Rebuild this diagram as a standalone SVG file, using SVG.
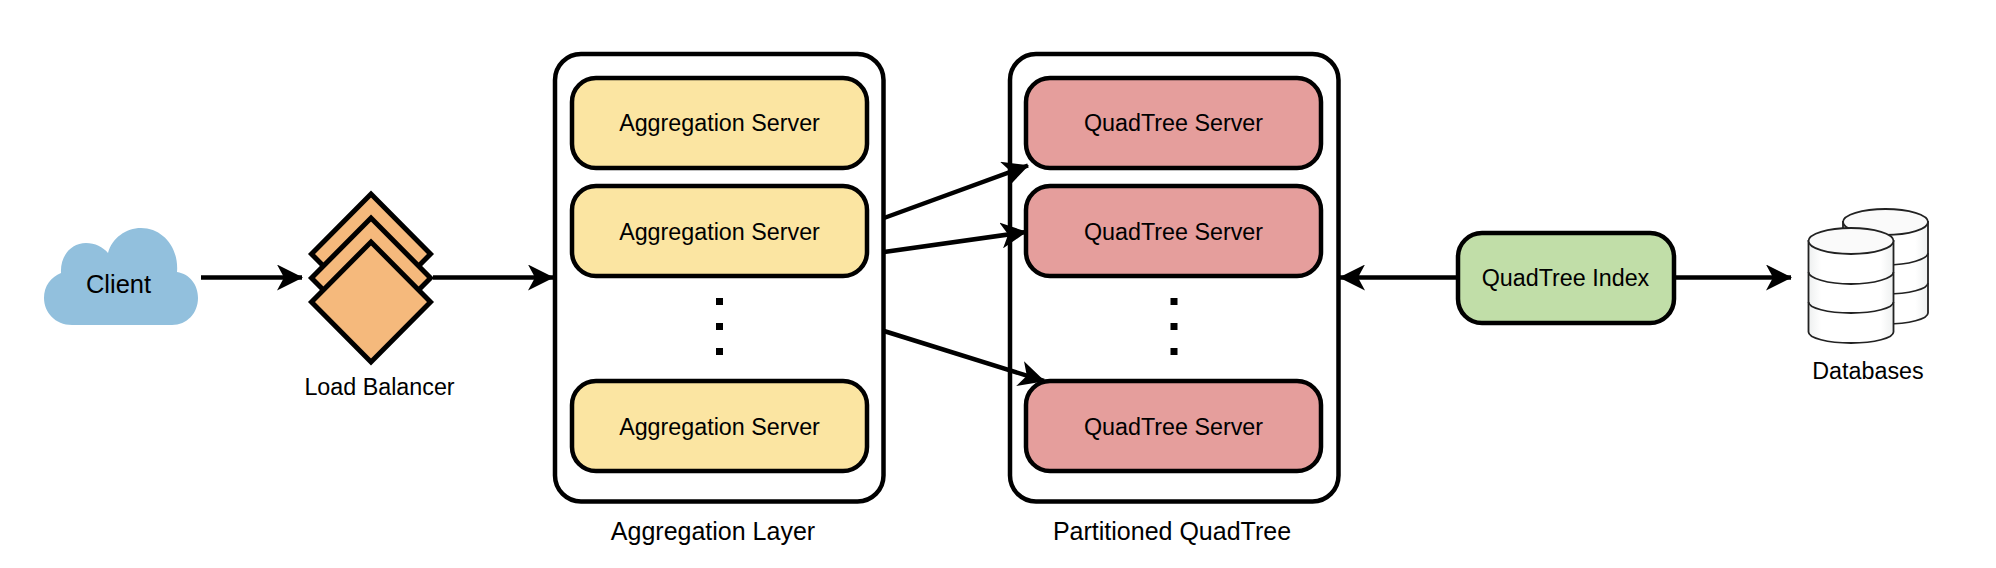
<svg xmlns="http://www.w3.org/2000/svg" width="1996" height="568" viewBox="0 0 1996 568">
<style>
text{font-family:"Liberation Sans",Arial,sans-serif;fill:#000;text-anchor:middle}
.s{font-size:23.300px}.l{font-size:25px}
.outer{fill:#fff;stroke:#000;stroke-width:4.500}
.box{stroke:#000;stroke-width:4.500}
.ag{fill:#FBE5A2}.qt{fill:#E59E9C}.idx{fill:#C1DEA8}
.dia{fill:#F5B97C;stroke:#000;stroke-width:5;stroke-linejoin:miter}
.conn{fill:none;stroke:#000;stroke-width:4.500}
.dots{fill:none;stroke:#000;stroke-width:7;stroke-dasharray:7 18}
.cyl{fill:url(#cylfill);stroke:#222;stroke-width:1.800}
.cap{fill:#fafafa;stroke:#222;stroke-width:1.800}
.arc{fill:none;stroke:#222;stroke-width:1.800}
</style>
<defs>
<linearGradient id="cylfill"><stop offset="0" stop-color="#eef0f0"/><stop offset="0.15" stop-color="#fff"/><stop offset="0.85" stop-color="#fff"/><stop offset="1" stop-color="#eef0f0"/></linearGradient>
<marker id="arrow" markerUnits="userSpaceOnUse" viewBox="0 0 26 26" markerWidth="26" markerHeight="26" refX="25" refY="13" orient="auto-start-reverse"><path d="M0 0L26 13L0 26L7 13Z" fill="#000"/></marker>
<g id="cyl">
<path class="cyl" d="M0 13V104C0 110 19 115 42.500 115S85 110 85 104V13Z"/>
<ellipse class="cap" cx="42.500" cy="13" rx="42.500" ry="13"/>
<path class="arc" d="M0 44C0 50 19 56 42.500 56S85 50 85 44"/>
<path class="arc" d="M0 74C0 80 19 85 42.500 85S85 80 85 74"/>
</g>
</defs>
<g id="outer-aggregation"><rect class="outer" x="555" y="54" width="328.500" height="447.500" rx="26"/></g>
<g id="outer-quadtree"><rect class="outer" x="1010" y="54" width="328.500" height="447.500" rx="26"/></g>
<g id="client"><path d="M72 325C55 325 44 312 44 298C44 286 51 277 61 273C60 256 71 243 86 243C95 243 103 247 108 253C112 238 126 228 141 228C163 228 179 248 177 272C190 274 198 285 198 298C198 313 187 325 172 325Z" fill="#92C0DD"/><text x="118.500" y="293" style="font-size:25.500px">Client</text></g>
<g id="load-balancer">
<path class="dia" d="M371 194L430.500 254L371 314L311.500 254Z"/>
<path class="dia" d="M371 218L430.500 278L371 338L311.500 278Z"/>
<path class="dia" d="M371 242L430.500 302L371 362L311.500 302Z"/>
<text class="s" x="379.500" y="395">Load Balancer</text></g>
<g id="aggregation-1"><rect class="box ag" x="572" y="78" width="295" height="90" rx="24"/><text class="s" x="719.500" y="131">Aggregation Server</text></g>
<g id="aggregation-2"><rect class="box ag" x="572" y="186" width="295" height="90" rx="24"/><text class="s" x="719.500" y="240">Aggregation Server</text></g>
<g id="aggregation-3"><rect class="box ag" x="572" y="381" width="295" height="90" rx="24"/><text class="s" x="719.500" y="435">Aggregation Server</text></g>
<g id="aggregation-dots"><path class="dots" d="M719.500 298V356"/></g>
<text class="l" x="713" y="540">Aggregation Layer</text>
<g id="quadtree-1"><rect class="box qt" x="1026" y="78" width="295" height="90" rx="24"/><text class="s" x="1173.500" y="131">QuadTree Server</text></g>
<g id="quadtree-2"><rect class="box qt" x="1026" y="186" width="295" height="90" rx="24"/><text class="s" x="1173.500" y="240">QuadTree Server</text></g>
<g id="quadtree-3"><rect class="box qt" x="1026" y="381" width="295" height="90" rx="24"/><text class="s" x="1173.500" y="435">QuadTree Server</text></g>
<g id="quadtree-dots"><path class="dots" d="M1174 298V356"/></g>
<text class="l" x="1172" y="540">Partitioned QuadTree</text>
<g id="quadtree-index"><rect class="box idx" x="1458" y="233" width="216" height="90" rx="24"/><text class="s" x="1565.500" y="286">QuadTree Index</text></g>
<g id="databases"><use href="#cyl" x="1843" y="209"/><use href="#cyl" x="1808.500" y="228"/><text class="s" x="1868" y="379">Databases</text></g>
<g id="connectors">
<path class="conn" marker-end="url(#arrow)" d="M201 277.500H302"/>
<path class="conn" marker-end="url(#arrow)" d="M433 277.500H553"/>
<path class="conn" marker-end="url(#arrow)" d="M884 218L1028 165.500"/>
<path class="conn" marker-end="url(#arrow)" d="M884 252L1026 232"/>
<path class="conn" marker-end="url(#arrow)" d="M884 331L1044 381"/>
<path class="conn" marker-end="url(#arrow)" d="M1457 277.500H1340"/>
<path class="conn" marker-end="url(#arrow)" d="M1674 277.500H1791"/>
</g>
</svg>
